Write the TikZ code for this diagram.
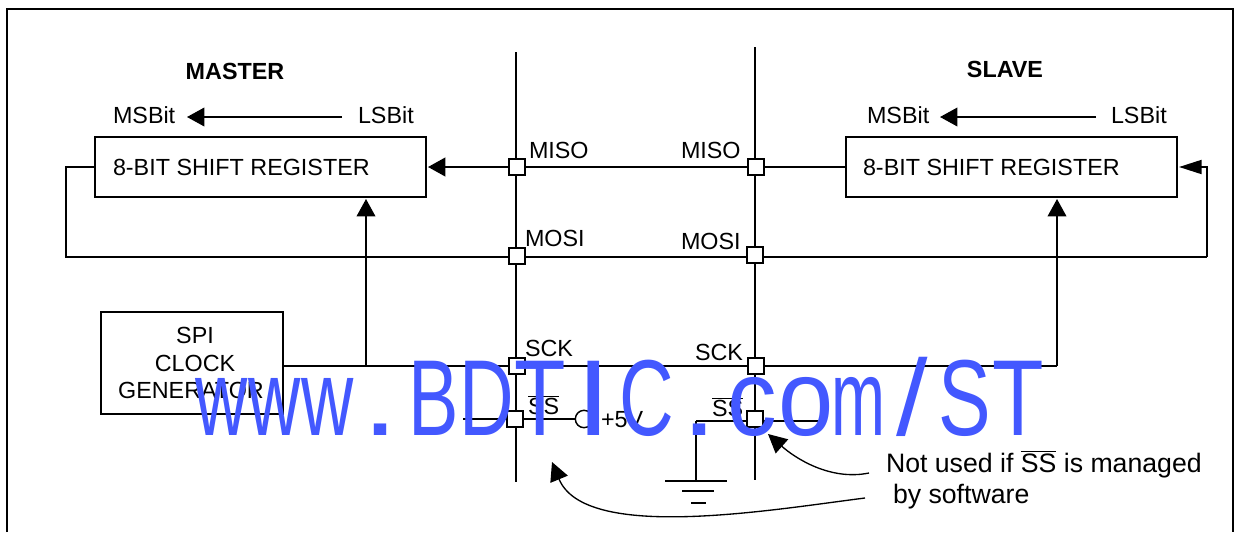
\documentclass[tikz,border=0pt]{standalone}
\usepackage{fontspec}
\usepackage{graphicx}
\setmainfont{Liberation Sans}
\usetikzlibrary{arrows.meta,backgrounds}
\definecolor{wm}{HTML}{4358FF}
\tikzset{
  x=0.75pt,y=-0.75pt,
  every node/.style={font=\fontsize{17.5}{20}\selectfont,inner sep=0pt,outer sep=0pt,text=black},
  wire/.style={draw=black,line width=1.5pt},
  thin wire/.style={draw=black,line width=1.1pt},
  regbox/.style={draw=black,line width=1.5pt,fill=white,minimum width=248.25pt,minimum height=45pt,anchor=north west},
  clkbox/.style={draw=black,line width=1.5pt,fill=white,minimum width=136.5pt,minimum height=76.5pt,anchor=north west},
  pin/.style={draw=black,line width=1.5pt,fill=white,minimum size=12pt},
  lab/.style={anchor=base west},
  head/.style={-{Triangle[length=13pt,width=14pt]}},
  gaphead/.style={-{Triangle[length=13pt,width=14pt]},shorten >=1.5pt},
  longhead/.style={-{Triangle[length=17pt,width=10.5pt]},shorten >=1.5pt},
  curve/.style={draw=black,line width=1pt,-{Triangle[length=14pt,width=14pt]}},
  bubble/.style={circle,draw=black,line width=1.1pt,fill=white,minimum size=13pt}
}
\newcommand{\ssbar}{$\overline{\hbox{SS}}$}
\newcommand{\wmc}[2]{\makebox[39.83pt][c]{\scalebox{#1}[1]{#2}}}
\begin{document}
\begin{tikzpicture}
\useasboundingbox (0,0) rectangle (1237,532);
% frame
\coordinate (fa) at (7,532);
\coordinate (fb) at (7,9);
\coordinate (fc) at (1233,9);
\coordinate (fd) at (1233,532);
\draw[line width=1.5pt] (fa) -- (fb) -- (fc) -- (fd);
% boxes
\node[regbox] (mreg) at (95,137) {};
\node[regbox] (sreg) at (846,137) {};
\node[clkbox] (clk) at (101,312) {};
\node[lab] (mregt) at (113,175) {8-BIT SHIFT REGISTER};
\node[lab] (sregt) at (863,175) {8-BIT SHIFT REGISTER};
\node[align=center,font=\fontsize{17.5}{20.6}\selectfont] (clkt) at (195,363) {SPI\\CLOCK\\GENERATOR\kern6pt};
% pins
\node[pin] (p1) at (517,167) {};
\node[pin] (p2) at (756,167) {};
\node[pin] (p3) at (517,256) {};
\node[pin] (p4) at (755,255) {};
\node[pin] (p5) at (517,366) {};
\node[pin] (p6) at (756,366) {};
\node[pin] (p7) at (515,419) {};
\node[pin] (p8) at (755,419) {};
\node[bubble] (vcc) at (584,419) {};
% wire anchors
\coordinate (b1t) at (516,52);
\coordinate (b1b) at (516,482);
\coordinate (b2t) at (755,47);
\coordinate (b2b) at (755,480);
\coordinate (mosil) at (66,257);
\coordinate (mosir) at (1207,257);
\coordinate (ckt) at (366,366);
\coordinate (cks) at (1057,366);
\coordinate (ssl) at (463,419);
\coordinate (ssr) at (818,421);
\coordinate (gt) at (696,421);
\coordinate (g1) at (696,481);
\coordinate (g1a) at (665,481);
\coordinate (g1b) at (727,481);
\coordinate (g2a) at (682,491);
\coordinate (g2b) at (714,491);
\coordinate (g3a) at (691,503);
\coordinate (g3b) at (706,503);
\coordinate (am1) at (342,117);
\coordinate (am2) at (187,117);
\coordinate (as1) at (1096,117);
\coordinate (as2) at (940,117);
\coordinate (c1a) at (869,473);
\coordinate (c1b) at (768,434);
\coordinate (c2a) at (865,498);
\coordinate (c2b) at (552,462);
\begin{pgfonlayer}{background}
\draw[wire] (b1t) -- (b1b);
\draw[wire] (b2t) -- (b2b);
\draw[wire] (sreg.west) -- (p2.center) -- (p1.center);
\draw[wire,gaphead] (p1.center) -- (mreg.east);
\draw[wire] (mreg.west) -| (mosil) -- (mosir);
\draw[wire,longhead] (mosir) |- (sreg.east);
\draw[thin wire] (clk.east |- ckt) -- (cks);
\draw[thin wire,gaphead] (cks) -- (cks |- sreg.south);
\draw[thin wire,gaphead] (ckt) -- (ckt |- mreg.south);
\draw[wire] (ssl) -- (p7.center) -- (vcc.center);
\draw[wire] (gt) -- (ssr);
\draw[wire] (gt) -- (g1);
\draw[wire] (g1a) -- (g1b);
\draw[wire] (g2a) -- (g2b);
\draw[wire] (g3a) -- (g3b);
\end{pgfonlayer}
\draw[thin wire,head] (am1) -- (am2);
\draw[thin wire,head] (as1) -- (as2);
\draw[curve] (c1a) .. controls (830,481) and (795,458) .. (c1b);
\draw[curve] (c2a) .. controls (770,510) and (585,542) .. (c2b);
% labels
\node[font=\fontsize{17.5}{20}\selectfont\bfseries] (tm) at (235,71) {MASTER};
\node[font=\fontsize{17.5}{20}\selectfont\bfseries] (ts) at (1005,69) {SLAVE};
\node[lab] (l1) at (113,123) {MSBit};
\node[lab] (l2) at (358,123) {LSBit};
\node[lab] (l3) at (867,123) {MSBit};
\node[lab] (l4) at (1111,123) {LSBit};
\node[lab] (l5) at (529,158) {MISO};
\node[lab] (l6) at (681,158) {MISO};
\node[lab] (l7) at (525,246) {MOSI};
\node[lab] (l8) at (681,249) {MOSI};
\node[lab] (l9) at (525,356) {SCK};
\node[lab] (l10) at (695,360) {SCK};
\node[lab] (l11) at (528,414) {\ssbar};
\node[lab] (l12) at (712,416) {\ssbar};
\node[lab] (l13) at (601,427) {+5V};
\node[lab,font=\fontsize{20}{24}\selectfont] (l14) at (886,472) {Not used if \ssbar{} is managed};
\node[lab,font=\fontsize{20}{24}\selectfont] (l15) at (893,503) {by software};
% watermark
\node[anchor=base west,font=\fontsize{81}{81}\selectfont,text=wm] (wmk) at (195,435) {\wmc{.67}{w}\wmc{.67}{w}\wmc{.67}{w}\wmc{1.2}{.}\wmc{.7}{B}\wmc{.7}{D}\wmc{.78}{T}\wmc{1.15}{I}\wmc{.7}{C}\wmc{1.2}{.}\wmc{.92}{c}\wmc{.92}{o}\wmc{.6}{m}\wmc{1.05}{/}\wmc{.73}{S}\wmc{.78}{T}};
\end{tikzpicture}
\end{document}
